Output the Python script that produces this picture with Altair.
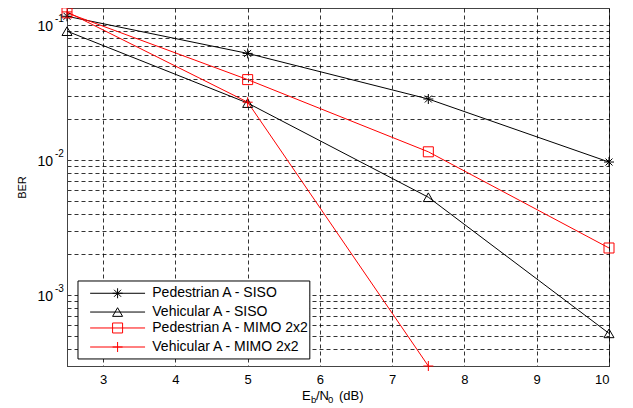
import altair as alt
import pandas as pd

# ---- data ----
ebn0 = [2.5, 5.0, 7.5, 10.0]
ped_siso = [0.116, 0.0616, 0.0283, 0.00966]
veh_siso = [0.090, 0.0264, 0.0053, 0.00052]
ped_mimo = [0.123, 0.0394, 0.0115, 0.00223]
ebn0_veh_mimo = [2.5, 5.0, 7.5]
veh_mimo = [0.125, 0.0268, 0.000298]

series_names = ["Pedestrian A - SISO", "Vehicular A - SISO",
                "Pedestrian A - MIMO 2x2", "Vehicular A - MIMO 2x2"]
series_colors = ["#000000", "#000000", "#ff0000", "#ff0000"]
STAR = "M-1,0H1M0,-1V1M-0.7,-0.7L0.7,0.7M-0.7,0.7L0.7,-0.7"
PLUS = "M-1,0H1M0,-1V1"
series_shapes = [STAR, "triangle-up", "square", PLUS]

x_ticks = [3, 4, 5, 6, 7, 8, 9, 10]
y_grid = [m * 10.0 ** e for e in (-4, -3, -2) for m in range(1, 10)] + [0.1]
y_grid = [v for v in y_grid if v >= 0.0003 - 1e-12]
decades = [0.1, 0.01, 0.001]
decade_exp = ["-1", "-2", "-3"]

x_dom = [2.5, 10]
y_dom = [0.000298, 0.1336]

W, H = 542, 358
FONT = "Liberation Sans"

rows = []
for name, xs, ys in [(series_names[0], ebn0, ped_siso),
                     (series_names[1], ebn0, veh_siso),
                     (series_names[2], ebn0, ped_mimo),
                     (series_names[3], ebn0_veh_mimo, veh_mimo)]:
    for a, b in zip(xs, ys):
        rows.append({"x": a, "ber": b, "series": name})
df = pd.DataFrame(rows)

xs = alt.Scale(domain=x_dom, nice=False, zero=False)
ys = alt.Scale(type="log", domain=y_dom, nice=False)
col = alt.Scale(domain=series_names, range=series_colors)
shp = alt.Scale(domain=series_names, range=series_shapes)

X = alt.X("x:Q", scale=xs,
          axis=alt.Axis(values=x_ticks, format="d", title=None, grid=True, gridDash=[4, 3],
                        gridColor="#000", gridOpacity=0.8, ticks=False,
                        labelFont=FONT, labelFontSize=13, labelColor="#000",
                        labelPadding=7, domainColor="#444"))
Y = alt.Y("ber:Q", scale=ys,
          axis=alt.Axis(values=y_grid, labels=False, title="BER", titleFont=FONT,
                        titleFontSize=11, titleFontWeight="normal", titleColor="#000",
                        titlePadding=40, grid=True, gridDash=[4, 3], gridColor="#000",
                        gridOpacity=0.8, ticks=False, domainColor="#444"))

lines = alt.Chart(df).mark_line(strokeWidth=1).encode(
    x=X, y=Y,
    color=alt.Color("series:N", scale=col, legend=None),
    detail="series:N",
)
points = alt.Chart(df).mark_point(size=100, filled=False, strokeWidth=1, opacity=1).encode(
    x=alt.X("x:Q", scale=xs), y=alt.Y("ber:Q", scale=ys),
    color=alt.Color("series:N", scale=col, legend=None),
    shape=alt.Shape("series:N", scale=shp, legend=None),
)

# y tick labels 10^k
dec_df = pd.DataFrame({"v": decades, "e": decade_exp})
lab10 = alt.Chart(dec_df).mark_text(align="right", baseline="middle", font=FONT,
                                    fontSize=14, color="#000", dy=2).encode(
    x=alt.value(-14), y=alt.Y("v:Q", scale=ys), text=alt.value("10"))
labexp = alt.Chart(dec_df).mark_text(align="left", baseline="middle", font=FONT,
                                     fontSize=10, color="#000", dy=-6).encode(
    x=alt.value(-12), y=alt.Y("v:Q", scale=ys), text="e:N")

# legend (placed in data coordinates)
leg_y = [0.00103, 0.000748, 0.00057, 0.000412]
leg_df = pd.DataFrame({"series": series_names, "y": leg_y,
                       "x0": [2.82] * 4, "x1": [3.58] * 4, "xm": [3.2] * 4,
                       "xt": [3.68] * 4})
box_df = pd.DataFrame({"x0": [2.652], "x1": [5.86], "y0": [0.000336], "y1": [0.00127]})
leg_box = alt.Chart(box_df).mark_rect(fill="white", stroke="#000", strokeWidth=1).encode(
    x=alt.X("x0:Q", scale=xs), x2="x1:Q", y=alt.Y("y0:Q", scale=ys), y2="y1:Q")
leg_lines = alt.Chart(leg_df).mark_rule(strokeWidth=1).encode(
    x=alt.X("x0:Q", scale=xs), x2="x1:Q", y=alt.Y("y:Q", scale=ys),
    color=alt.Color("series:N", scale=col, legend=None))
leg_pts = alt.Chart(leg_df).mark_point(size=100, filled=False, strokeWidth=1, opacity=1).encode(
    x=alt.X("xm:Q", scale=xs), y=alt.Y("y:Q", scale=ys),
    color=alt.Color("series:N", scale=col, legend=None),
    shape=alt.Shape("series:N", scale=shp, legend=None))
leg_txt = alt.Chart(leg_df).mark_text(align="left", baseline="middle", font=FONT,
                                      fontSize=14, color="#000").encode(
    x=alt.X("xt:Q", scale=xs), y=alt.Y("y:Q", scale=ys), text="series:N")

# x-axis title E_b/N_0 (dB)
tparts = [("E", 235, 13, 0), ("b", 244, 9.5, 4), ("/N", 249, 13, 0), ("0", 261, 9.5, 4),
          ("(dB)", 272, 13, 0)]
title_layers = [
    alt.Chart(pd.DataFrame({"t": [t]})).mark_text(align="left", baseline="middle",
                                                   font=FONT, fontSize=fs, color="#000",
                                                   dy=dy).encode(
        x=alt.value(px), y=alt.value(H + 30), text="t:N")
    for t, px, fs, dy in tparts
]

chart = alt.layer(lines, points, leg_box, leg_lines, leg_pts, leg_txt, lab10, labexp,
                  *title_layers).properties(
    width=W, height=H,
    autosize=alt.AutoSizeParams(type="none"),
    padding={"left": 59, "top": 0, "right": 16, "bottom": 41},
    background="white",
).configure_view(stroke="#444", strokeWidth=1)

chart.save("out.html", embed_options={"renderer": "svg", "actions": False})
